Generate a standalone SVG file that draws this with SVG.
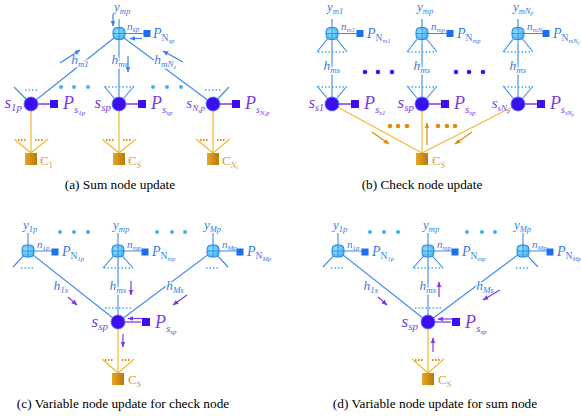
<svg xmlns="http://www.w3.org/2000/svg" xmlns:xlink="http://www.w3.org/1999/xlink" width="581" height="416" viewBox="0 0 581 416">
<style>
.t{font-family:"Liberation Serif","Times New Roman","DejaVu Serif",serif;font-style:italic}
.bl{fill:#3a7de6}
.pu{fill:#7a3ce6}
.or{fill:#d99a1e;font-style:normal}
.up{font-style:normal}
.halo{stroke:#fff;stroke-width:3;paint-order:stroke;stroke-linejoin:round}
.cap{font-family:"Liberation Serif","Times New Roman","DejaVu Serif",serif;font-size:13.3px;fill:#000;text-anchor:middle}
.lb{stroke:#3b8af0;stroke-width:1.1;fill:none}
.dc{stroke:#3cb0f0;stroke-width:1.6;stroke-dasharray:1.5 2;fill:none}
.lo{stroke:#f5b830;stroke-width:1.2;fill:none}
.do{stroke:#d88e10;stroke-width:1.8;stroke-dasharray:1.5 1.5;fill:none}
.lp{stroke:#7a40e8;stroke-width:1.3;fill:none}
.ab{stroke:#3b82f0;stroke-width:1.2;fill:none;marker-end:url(#mb)}
.ao{stroke:#d88e10;stroke-width:1.2;fill:none;marker-end:url(#mo)}
.av{stroke:#7a3ce6;stroke-width:1.2;fill:none;marker-end:url(#mv)}
.dcy{fill:#3ab4f0}
.dpu{fill:#4a12e8}
.dor{fill:#d88e10}
</style>
<defs>
<radialGradient id="gS" cx="0.4" cy="0.4" r="0.7"><stop offset="0" stop-color="#9be4ff"/><stop offset="1" stop-color="#3ab0f0"/></radialGradient>
<linearGradient id="gC" x1="0" y1="0" x2="1" y2="0"><stop offset="0" stop-color="#e6a629"/><stop offset="1" stop-color="#b87a08"/></linearGradient>
<marker id="mb" viewBox="0 0 10 10" refX="9" refY="5" markerWidth="6" markerHeight="6" markerUnits="userSpaceOnUse" orient="auto"><path d="M0,1L10,5L0,9z" fill="#3b82f0"/></marker>
<marker id="mo" viewBox="0 0 10 10" refX="9" refY="5" markerWidth="6" markerHeight="6" markerUnits="userSpaceOnUse" orient="auto"><path d="M0,1L10,5L0,9z" fill="#d88e10"/></marker>
<marker id="mv" viewBox="0 0 10 10" refX="9" refY="5" markerWidth="6" markerHeight="6" markerUnits="userSpaceOnUse" orient="auto"><path d="M0,1L10,5L0,9z" fill="#7a3ce6"/></marker>
<g id="sn"><rect x="-6" y="-6" width="12" height="12" rx="4" fill="url(#gS)" stroke="#2f86e6" stroke-width="1"/><path d="M-6,0H6M0,-6V6" stroke="#2f86e6" stroke-width="0.9"/></g>
<g id="vn"><circle r="7" fill="#3a10f0" stroke="#5a6cff" stroke-width="0.8"/></g>
<rect id="pv" x="-4" y="-4" width="8" height="8" fill="#3a10f0"/>
<rect id="pn" x="-3.5" y="-3.5" width="7" height="7" fill="#1e6ff0"/>
<rect id="cn" x="-6" y="0" width="12" height="12" fill="url(#gC)"/>
</defs>
<rect width="581" height="416" fill="#fff"/>

<g id="connectors">
 <!-- (a) -->
 <path class="lb" d="M119,19V104M119,33.5H144M114,38L31,104M124,38L213,104M31,104L14,87M119,104L104,86M119,104L134,86M213,104L229,87"/>
 <path class="dc" d="M25,90H37M105,87H133M205,90H221"/>
 <path class="lo" d="M31,111V153M31,153L14,139M31,153L48,139M119,111V153M119,153L102,139M119,153L136,139M213,111V153M213,153L196,139M213,153L230,139"/>
 <path class="do" d="M18,140H27M35,140H44M106,140H115M123,140H132M200,140H209M217,140H226"/>
 <path class="lp" d="M31,104H50M119,104H138M213,104H232"/>
 <!-- (b) -->
 <path class="lb" d="M332,19V104M332,33.5H357M332,33L317,52M332,33L347,52M332,104L317,86M332,104L347,86M422,19V104M422,33.5H447M422,33L407,52M422,33L437,52M422,104L407,86M422,104L437,86M518,19V104M518,33.5H543M518,33L503,52M518,33L533,52M518,104L503,86M518,104L533,86"/>
 <path class="dc" d="M318,52H346M318,87H346M408,52H436M408,87H436M504,52H532M504,87H532"/>
 <path class="lo" d="M332,104L422,153M422,111V153M518,104L422,153"/>
 <path class="lp" d="M332,104H351M422,104H441M518,104H537"/>
 <!-- (c) -->
 <g id="conn-c">
 <path class="lb" d="M28,233V251M28,251H52M28,251L13,267M28,251L118,322M118,233V322M118,251H142M118,251L103,268M118,251L133,268M213,233V251M213,251H237M213,251L118,322M213,251L228,267"/>
 <path class="dc" d="M21,268H34M104,268H133M206,268H219M105,308H132"/>
 <path class="lo" d="M118,329V373M118,373L102,359M118,373L134,359"/>
 <path class="do" d="M105,360H114M122,360H131"/>
 <path class="lp" d="M118,322H141"/>
 </g>
 <!-- (d) -->
 <use xlink:href="#conn-c" href="#conn-c" transform="translate(310,0)"/>
</g>

<!-- dots -->
<g id="dots">
 <circle class="dcy" cx="61" cy="87" r="2"/><circle class="dcy" cx="74" cy="87" r="2"/><circle class="dcy" cx="88" cy="87" r="2"/>
 <circle class="dcy" cx="153" cy="87" r="2"/><circle class="dcy" cx="167" cy="87" r="2"/><circle class="dcy" cx="181" cy="87" r="2"/>
 <circle class="dpu" cx="365" cy="72" r="2.3"/><circle class="dpu" cx="378" cy="72" r="2.3"/><circle class="dpu" cx="392" cy="72" r="2.3"/>
 <circle class="dpu" cx="456" cy="72" r="2.3"/><circle class="dpu" cx="469" cy="72" r="2.3"/><circle class="dpu" cx="483" cy="72" r="2.3"/>
 <circle class="dor" cx="390" cy="126" r="2.3"/><circle class="dor" cx="398" cy="126" r="2.3"/><circle class="dor" cx="407" cy="126" r="2.3"/>
 <circle class="dor" cx="438" cy="126" r="2.3"/><circle class="dor" cx="447" cy="126" r="2.3"/><circle class="dor" cx="455" cy="126" r="2.3"/>
 <circle class="dcy" cx="60" cy="232" r="2"/><circle class="dcy" cx="74" cy="232" r="2"/><circle class="dcy" cx="88" cy="232" r="2"/>
 <circle class="dcy" cx="157" cy="232" r="2"/><circle class="dcy" cx="172" cy="232" r="2"/><circle class="dcy" cx="185" cy="232" r="2"/>
 <circle class="dcy" cx="370" cy="232" r="2"/><circle class="dcy" cx="384" cy="232" r="2"/><circle class="dcy" cx="398" cy="232" r="2"/>
 <circle class="dcy" cx="467" cy="232" r="2"/><circle class="dcy" cx="482" cy="232" r="2"/><circle class="dcy" cx="495" cy="232" r="2"/>
</g>

<!-- edge labels -->
<g id="edge-labels">
 <text class="t bl halo" x="80" y="64" font-size="13.5" text-anchor="middle">h<tspan dy="3" font-size="9">m1</tspan></text>
 <text class="t bl halo" x="120" y="64" font-size="13.5" text-anchor="middle">h<tspan dy="3" font-size="9">ms</tspan></text>
 <text class="t bl halo" x="165" y="64" font-size="13.5" text-anchor="middle">h<tspan dy="3" font-size="9">mN</tspan><tspan dy="1.5" font-size="6">s</tspan></text>
 <text class="t bl halo" x="332" y="70" font-size="13.5" text-anchor="middle">h<tspan dy="3" font-size="9">ms</tspan></text>
 <text class="t bl halo" x="422" y="70" font-size="13.5" text-anchor="middle">h<tspan dy="3" font-size="9">ms</tspan></text>
 <text class="t bl halo" x="518" y="70" font-size="13.5" text-anchor="middle">h<tspan dy="3" font-size="9">ms</tspan></text>
 <text class="t bl halo" x="61" y="290" font-size="13.5" text-anchor="middle">h<tspan dy="3" font-size="9">1s</tspan></text>
 <text class="t bl halo" x="118" y="290" font-size="13.5" text-anchor="middle">h<tspan dy="3" font-size="9">ms</tspan></text>
 <text class="t bl halo" x="175" y="290" font-size="13.5" text-anchor="middle">h<tspan dy="3" font-size="9">Ms</tspan></text>
 <text class="t bl halo" x="371" y="290" font-size="13.5" text-anchor="middle">h<tspan dy="3" font-size="9">1s</tspan></text>
 <text class="t bl halo" x="428" y="290" font-size="13.5" text-anchor="middle">h<tspan dy="3" font-size="9">ms</tspan></text>
 <text class="t bl halo" x="485" y="290" font-size="13.5" text-anchor="middle">h<tspan dy="3" font-size="9">Ms</tspan></text>
</g>

<!-- message-direction arrows -->
<g id="arrows">
 <path class="ab" d="M113,14V26"/><path class="ab" d="M142,38.5H130"/><path class="ab" d="M60,63L80,50"/><path class="ab" d="M128,56V72"/><path class="ab" d="M183,62L163,51"/>
 <path class="ao" d="M372,132L389,144"/><path class="ao" d="M427,145V123"/><path class="ao" d="M472,132L455,144"/>
 <path class="av" d="M68,297L77,305"/><path class="av" d="M131,281V295"/><path class="av" d="M187,295L173,305"/><path class="av" d="M142,318.5H128"/><path class="av" d="M123,334V347"/>
 <g transform="translate(310,0)">
 <path class="av" d="M68,297L77,305"/><path class="av" d="M129,297V282"/><path class="av" d="M190,290L173,300"/><path class="av" d="M142,319H128"/><path class="av" d="M123,352V338"/>
 </g>
</g>

<!-- (a) nodes -->
<g id="a-sum-m">
 <use href="#sn" x="119" y="33.5"/><use href="#pn" x="147" y="33.5"/>
 <text class="t bl" x="114" y="11" font-size="13">y<tspan dy="2.5" font-size="8.5">mp</tspan></text>
 <text class="t bl" x="127" y="30" font-size="11">n<tspan dy="2" font-size="7.5">sp</tspan></text>
 <text class="t bl" x="153" y="38" font-size="14">P<tspan class="up" dy="3" font-size="9.5">N</tspan><tspan dy="2" font-size="6.5">sp</tspan></text>
</g>
<g id="a-var-1">
 <use href="#vn" x="31" y="104"/><use href="#pv" x="54" y="104"/>
 <text class="t pu" x="22" y="108" font-size="17" text-anchor="end">s<tspan dy="3" font-size="11">1p</tspan></text>
 <text class="t pu" x="63" y="109" font-size="18">P<tspan dy="4" font-size="11">s</tspan><tspan dy="2" font-size="7">1p</tspan></text>
</g>
<g id="a-var-s">
 <use href="#vn" x="119" y="104"/><use href="#pv" x="142" y="104"/>
 <text class="t pu" x="111" y="108" font-size="17" text-anchor="end">s<tspan dy="3" font-size="11">sp</tspan></text>
 <text class="t pu" x="151" y="109" font-size="18">P<tspan dy="4" font-size="11">s</tspan><tspan dy="2" font-size="7">sp</tspan></text>
</g>
<g id="a-var-N">
 <use href="#vn" x="213" y="104"/><use href="#pv" x="236" y="104"/>
 <text class="t pu" x="205" y="108" font-size="15" text-anchor="end">s<tspan dy="3" font-size="9">N</tspan><tspan dy="1.5" font-size="6">s</tspan><tspan dy="-1.5" font-size="9">p</tspan></text>
 <text class="t pu" x="245" y="109" font-size="18">P<tspan dy="4" font-size="10">s</tspan><tspan dy="2" font-size="6.5">N</tspan><tspan dy="1" font-size="5">s</tspan><tspan dy="-1" font-size="6.5">p</tspan></text>
</g>
<g id="a-chk-1"><use href="#cn" x="31" y="153"/><text class="t or" x="40" y="165" font-size="13">C<tspan dy="2.5" font-size="8">1</tspan></text></g>
<g id="a-chk-s"><use href="#cn" x="119" y="153"/><text class="t or" x="128" y="165" font-size="13">C<tspan dy="2.5" font-size="8">S</tspan></text></g>
<g id="a-chk-N"><use href="#cn" x="213" y="153"/><text class="t or" x="222" y="165" font-size="13">C<tspan dy="2.5" font-size="8" font-style="italic">N</tspan><tspan dy="1.5" font-size="5.5" font-style="italic">s</tspan></text></g>

<!-- (b) nodes -->
<g id="b-sum-1">
 <use href="#sn" x="332" y="33.5"/><use href="#pn" x="360" y="33.5"/>
 <text class="t bl" x="327" y="11" font-size="13">y<tspan dy="2.5" font-size="8.5">m1</tspan></text>
 <text class="t bl" x="341" y="30" font-size="11">n<tspan dy="2" font-size="7">m1</tspan></text>
 <text class="t bl" x="367" y="38" font-size="14">P<tspan class="up" dy="3" font-size="9.5">N</tspan><tspan dy="2" font-size="6.5">m1</tspan></text>
</g>
<g id="b-sum-p">
 <use href="#sn" x="422" y="33.5"/><use href="#pn" x="450" y="33.5"/>
 <text class="t bl" x="417" y="11" font-size="13">y<tspan dy="2.5" font-size="8.5">mp</tspan></text>
 <text class="t bl" x="431" y="30" font-size="11">n<tspan dy="2" font-size="7">mp</tspan></text>
 <text class="t bl" x="457" y="38" font-size="14">P<tspan class="up" dy="3" font-size="9.5">N</tspan><tspan dy="2" font-size="6.5">mp</tspan></text>
</g>
<g id="b-sum-N">
 <use href="#sn" x="518" y="33.5"/><use href="#pn" x="546" y="33.5"/>
 <text class="t bl" x="513" y="11" font-size="13">y<tspan dy="2.5" font-size="8.5">mN</tspan><tspan dy="1.5" font-size="5.5">p</tspan></text>
 <text class="t bl" x="527" y="30" font-size="11">n<tspan dy="2" font-size="7">mN</tspan><tspan dy="1" font-size="4.5">p</tspan></text>
 <text class="t bl" x="553" y="38" font-size="14">P<tspan class="up" dy="3" font-size="9.5">N</tspan><tspan dy="2" font-size="6.5">mN</tspan><tspan dy="1" font-size="4.5">p</tspan></text>
</g>
<g id="b-var-1">
 <use href="#vn" x="332" y="104"/><use href="#pv" x="355" y="104"/>
 <text class="t pu" x="324" y="108" font-size="16" text-anchor="end">s<tspan dy="3" font-size="10">s1</tspan></text>
 <text class="t pu" x="364" y="109" font-size="18">P<tspan dy="4" font-size="11">s</tspan><tspan dy="2" font-size="7">s1</tspan></text>
</g>
<g id="b-var-p">
 <use href="#vn" x="422" y="104"/><use href="#pv" x="445" y="104"/>
 <text class="t pu" x="414" y="108" font-size="17" text-anchor="end">s<tspan dy="3" font-size="11">sp</tspan></text>
 <text class="t pu" x="454" y="109" font-size="18">P<tspan dy="4" font-size="11">s</tspan><tspan dy="2" font-size="7">sp</tspan></text>
</g>
<g id="b-var-N">
 <use href="#vn" x="518" y="104"/><use href="#pv" x="541" y="104"/>
 <text class="t pu" x="510" y="108" font-size="15" text-anchor="end">s<tspan dy="3" font-size="9">sN</tspan><tspan dy="1.5" font-size="6">p</tspan></text>
 <text class="t pu" x="550" y="109" font-size="18">P<tspan dy="4" font-size="10">s</tspan><tspan dy="2" font-size="6.5">sN</tspan><tspan dy="1" font-size="5">p</tspan></text>
</g>
<g id="b-chk"><use href="#cn" x="422" y="153"/><text class="t or" x="432" y="165" font-size="13">C<tspan dy="2.5" font-size="8">S</tspan></text></g>

<!-- (c) nodes -->
<g id="c-sum-1">
 <use href="#sn" x="28" y="251"/><use href="#pn" x="55" y="252"/>
 <text class="t bl" x="23" y="229" font-size="13">y<tspan dy="2.5" font-size="8.5">1p</tspan></text>
 <text class="t bl" x="37" y="248" font-size="11">n<tspan dy="2" font-size="7">1p</tspan></text>
 <text class="t bl" x="62" y="256" font-size="14">P<tspan class="up" dy="3" font-size="9.5">N</tspan><tspan dy="2" font-size="6.5">1p</tspan></text>
</g>
<g id="c-sum-m">
 <use href="#sn" x="118" y="251"/><use href="#pn" x="145" y="252"/>
 <text class="t bl" x="113" y="229" font-size="13">y<tspan dy="2.5" font-size="8.5">mp</tspan></text>
 <text class="t bl" x="127" y="248" font-size="11">n<tspan dy="2" font-size="7">mp</tspan></text>
 <text class="t bl" x="152" y="256" font-size="14">P<tspan class="up" dy="3" font-size="9.5">N</tspan><tspan dy="2" font-size="6.5">mp</tspan></text>
</g>
<g id="c-sum-M">
 <use href="#sn" x="213" y="251"/><use href="#pn" x="240" y="252"/>
 <text class="t bl" x="204" y="229" font-size="13">y<tspan dy="2.5" font-size="8.5">Mp</tspan></text>
 <text class="t bl" x="222" y="248" font-size="11">n<tspan dy="2" font-size="7">Mp</tspan></text>
 <text class="t bl" x="247" y="256" font-size="14">P<tspan class="up" dy="3" font-size="9.5">N</tspan><tspan dy="2" font-size="6.5">Mp</tspan></text>
</g>
<g id="c-var">
 <use href="#vn" x="118" y="322"/><use href="#pv" x="146" y="322"/>
 <text class="t pu" x="108" y="327" font-size="17" text-anchor="end">s<tspan dy="3" font-size="11">sp</tspan></text>
 <text class="t pu" x="155" y="328" font-size="18">P<tspan dy="4" font-size="11">s</tspan><tspan dy="2" font-size="7">sp</tspan></text>
</g>
<g id="c-chk"><use href="#cn" x="118" y="373"/><text class="t or" x="128" y="384" font-size="13">C<tspan dy="2.5" font-size="8">S</tspan></text></g>

<!-- (d) nodes -->
<g id="d-sum-1">
 <use href="#sn" x="338" y="251"/><use href="#pn" x="365" y="252"/>
 <text class="t bl" x="333" y="229" font-size="13">y<tspan dy="2.5" font-size="8.5">1p</tspan></text>
 <text class="t bl" x="347" y="248" font-size="11">n<tspan dy="2" font-size="7">1p</tspan></text>
 <text class="t bl" x="372" y="256" font-size="14">P<tspan class="up" dy="3" font-size="9.5">N</tspan><tspan dy="2" font-size="6.5">1p</tspan></text>
</g>
<g id="d-sum-m">
 <use href="#sn" x="428" y="251"/><use href="#pn" x="455" y="252"/>
 <text class="t bl" x="423" y="229" font-size="13">y<tspan dy="2.5" font-size="8.5">mp</tspan></text>
 <text class="t bl" x="437" y="248" font-size="11">n<tspan dy="2" font-size="7">mp</tspan></text>
 <text class="t bl" x="462" y="256" font-size="14">P<tspan class="up" dy="3" font-size="9.5">N</tspan><tspan dy="2" font-size="6.5">mp</tspan></text>
</g>
<g id="d-sum-M">
 <use href="#sn" x="523" y="251"/><use href="#pn" x="550" y="252"/>
 <text class="t bl" x="514" y="229" font-size="13">y<tspan dy="2.5" font-size="8.5">Mp</tspan></text>
 <text class="t bl" x="532" y="248" font-size="11">n<tspan dy="2" font-size="7">Mp</tspan></text>
 <text class="t bl" x="557" y="256" font-size="14">P<tspan class="up" dy="3" font-size="9.5">N</tspan><tspan dy="2" font-size="6.5">Mp</tspan></text>
</g>
<g id="d-var">
 <use href="#vn" x="428" y="322"/><use href="#pv" x="456" y="322"/>
 <text class="t pu" x="418" y="327" font-size="17" text-anchor="end">s<tspan dy="3" font-size="11">sp</tspan></text>
 <text class="t pu" x="465" y="328" font-size="18">P<tspan dy="4" font-size="11">s</tspan><tspan dy="2" font-size="7">sp</tspan></text>
</g>
<g id="d-chk"><use href="#cn" x="428" y="373"/><text class="t or" x="438" y="384" font-size="13">C<tspan dy="2.5" font-size="8">S</tspan></text></g>

<g id="captions">
 <text class="cap" x="120" y="189">(a) Sum node update</text>
 <text class="cap" x="422" y="189">(b) Check node update</text>
 <text class="cap" x="123" y="408">(c) Variable node update for check node</text>
 <text class="cap" x="435" y="408">(d) Variable node update for sum node</text>
</g>
</svg>
